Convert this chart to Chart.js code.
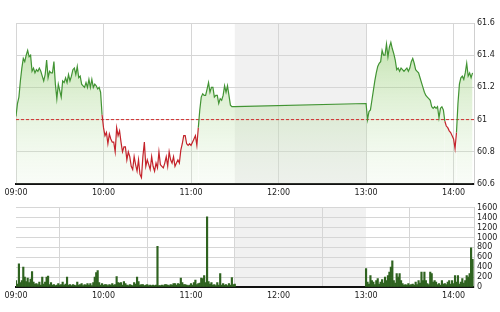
<!DOCTYPE html>
<html>
<head>
<meta charset="utf-8">
<script src="https://cdn.jsdelivr.net/npm/chart.js@4.4.1/dist/chart.umd.min.js"></script>
<style>
  html, body { margin:0; padding:0; background:#fff; }
  #wrap { position:relative; width:500px; height:312px; }
  #price { position:absolute; left:0; top:0; }
  #vol { position:absolute; left:0; top:200px; }
</style>
</head>
<body>
<div id="wrap">
  <canvas id="price" width="500" height="200"></canvas>
  <canvas id="vol" width="500" height="112"></canvas>
</div>
<script>
// time axis is minutes after 09:00
const timeLabels = ["09:00","10:00","11:00","12:00","13:00","14:00"];
const timeTicks = [0, 60, 120, 180, 240, 300];
const priceTicks = [60.6, 60.8, 61, 61.2, 61.4, 61.6];
const volumeTicks = [0, 200, 400, 600, 800, 1000, 1200, 1400, 1600];
const refPrice = 61;
const lunchStart = 150, lunchEnd = 240, sessionEnd = 314;
const morningStart = 0, afternoonStart = 240;

// one value per minute, 09:00 - 11:30
const morningPrice = [
  61.02,61.10,61.14,61.24,61.32,61.38,61.36,61.40,61.43,61.39,
  61.40,61.30,61.32,61.29,61.31,61.30,61.32,61.30,61.27,61.24,
  61.28,61.37,61.26,61.30,61.29,61.29,61.36,61.22,61.13,61.22,
  61.18,61.14,61.24,61.23,61.26,61.23,61.28,61.24,61.27,61.31,
  61.32,61.28,61.33,61.26,61.27,61.22,61.21,61.20,61.23,61.20,
  61.25,61.20,61.25,61.20,61.22,61.21,61.19,61.20,61.17,61.03,
  60.95,60.90,60.92,60.85,60.91,60.88,60.86,60.86,60.80,60.95,
  60.90,60.93,60.86,60.80,60.83,60.83,60.75,60.80,60.77,60.71,
  60.69,60.77,60.72,60.68,60.75,60.66,60.64,60.77,60.86,60.71,
  60.75,60.72,60.69,60.77,60.71,60.68,60.73,60.70,60.80,60.72,
  60.71,60.70,60.73,60.77,60.71,60.80,60.75,60.73,60.77,60.71,
  60.73,60.75,60.73,60.81,60.85,60.90,60.90,60.85,60.84,60.85,
  60.84,60.86,60.88,60.90,60.84,60.95,61.06,61.14,61.16,61.15,
  61.15,61.19,61.23,61.17,61.20,61.20,61.14,61.15,61.15,61.10,
  61.13,61.12,61.15,61.21,61.17,61.21,61.15,61.09,61.08,61.08,
  61.08
];
// one value per minute, 13:00 - 14:13
const afternoonPrice = [
  61.10,61.00,61.05,61.06,61.12,61.18,61.24,61.29,61.33,61.35,
  61.36,61.43,61.40,61.40,61.47,61.39,61.45,61.48,61.44,61.41,
  61.37,61.31,61.32,61.30,61.32,61.31,61.30,61.31,61.32,61.30,
  61.32,61.36,61.38,61.35,61.31,61.30,61.29,61.26,61.23,61.20,
  61.17,61.15,61.14,61.13,61.12,61.08,61.07,61.08,61.07,61.08,
  61.01,61.07,61.08,61.06,60.99,60.96,60.95,60.93,60.92,60.90,
  60.88,60.82,60.92,61.10,61.22,61.26,61.27,61.25,61.29,61.35,
  61.27,61.29,61.26,61.29
];
const morningVolume = [
  130,60,470,90,130,400,200,110,180,90,
  160,310,100,60,70,50,100,40,200,60,
  100,200,220,50,90,40,50,30,40,70,
  40,50,100,40,60,200,40,50,30,50,
  40,30,100,40,50,70,30,50,40,70,
  40,70,30,90,200,290,330,90,40,70,
  40,50,50,30,50,40,70,40,50,210,
  90,80,90,40,110,70,40,30,50,40,
  30,90,60,200,110,40,50,50,30,40,
  50,30,40,30,40,30,40,820,30,30,
  40,30,50,50,40,30,50,40,70,70,
  40,70,60,180,90,50,50,40,30,40,
  70,40,90,140,50,70,80,180,170,230,
  90,1420,110,60,90,40,50,30,90,40,
  270,40,70,40,50,30,70,40,190,50,
  60
];
const afternoonVolume = [
  370,100,60,230,130,100,50,130,170,60,
  100,150,80,200,130,230,300,400,530,130,
  80,270,200,270,130,70,40,50,40,70,
  40,50,60,40,100,50,130,80,300,130,
  300,130,70,50,300,270,100,130,100,50,
  70,40,130,60,70,50,100,130,60,130,
  70,230,100,230,60,100,170,80,130,230,
  200,270,790,560
];

const GREEN = "#429434", RED = "#c4232b", GRID = "#d6d6d6";
const FONT = { family: "DejaVu Sans", size: 8 };

function toPoints(start, values) {
  return values.map((v, i) => ({ x: start + i, y: v }));
}

const lunchShade = {
  id: "lunchShade",
  beforeDraw(chart) {
    const { ctx, chartArea: a, scales: { x } } = chart;
    const x0 = x.getPixelForValue(lunchStart), x1 = x.getPixelForValue(lunchEnd);
    ctx.save();
    ctx.fillStyle = "#f1f1f1";
    ctx.fillRect(x0, a.top, x1 - x0, a.bottom - a.top);
    ctx.restore();
  }
};

function timeAxis(height) {
  return {
    type: "linear", min: 0, max: sessionEnd, offset: false,
    afterBuildTicks: s => { s.ticks = timeTicks.map(v => ({ value: v })); },
    afterFit: s => { s.height = height; },
    grid: { color: GRID, drawTicks: false },
    border: { color: "#111", width: 2 },
    ticks: { font: FONT, color: "#222", padding: 4, maxRotation: 0, autoSkip: false,
      callback: v => timeLabels[timeTicks.indexOf(v)] }
  };
}

function valueAxis(min, max, list) {
  return {
    position: "right", min, max,
    afterBuildTicks: s => { s.ticks = list.map(v => ({ value: v })); },
    afterFit: s => { s.width = 26; },
    grid: { color: GRID, drawTicks: false },
    border: { color: "#cfcfcf" },
    ticks: { font: FONT, color: "#222", padding: 3, autoSkip: false,
      callback: v => String(Number(v.toFixed(1))) }
  };
}

const allPrice = toPoints(morningStart, morningPrice).concat(toPoints(afternoonStart, afternoonPrice));

new Chart(document.getElementById("price"), {
  type: "line",
  data: {
    datasets: [{
      data: allPrice,
      borderWidth: 1.2, borderColor: GREEN, pointRadius: 0, tension: 0,
      fill: "start",
      backgroundColor: c => {
        const a = c.chart.chartArea;
        if (!a) return "rgba(140,200,100,0.35)";
        const g = c.chart.ctx.createLinearGradient(0, a.top, 0, a.bottom);
        g.addColorStop(0, "rgba(135,198,95,0.58)");
        g.addColorStop(1, "rgba(215,238,205,0.15)");
        return g;
      },
      segment: {
        borderColor: s => (s.p0.parsed.y + s.p1.parsed.y) / 2 < refPrice ? RED : GREEN
      }
    }, {
      data: [{ x: 0, y: refPrice }, { x: sessionEnd, y: refPrice }],
      borderWidth: 1, borderColor: "#d42a2a", borderDash: [3, 2],
      pointRadius: 0, fill: false
    }]
  },
  options: {
    responsive: false, animation: false,
    layout: { padding: { left: 16, top: 23, right: 0, bottom: 0 } },
    plugins: { legend: { display: false }, tooltip: { enabled: false },
      filler: { drawTime: "beforeDatasetsDraw" } },
    scales: { x: timeAxis(16), y: valueAxis(60.6, 61.6, priceTicks) }
  },
  plugins: [lunchShade]
});

new Chart(document.getElementById("vol"), {
  type: "bar",
  data: {
    datasets: [{
      data: toPoints(morningStart, morningVolume).concat(toPoints(afternoonStart, afternoonVolume)),
      backgroundColor: "#2f6320", barThickness: 1.5, borderWidth: 0
    }]
  },
  options: {
    responsive: false, animation: false,
    layout: { padding: { left: 16, top: 7, right: 0, bottom: 0 } },
    plugins: { legend: { display: false }, tooltip: { enabled: false } },
    scales: {
      x: timeAxis(25),
      y: Object.assign(valueAxis(0, 1600, volumeTicks), {
        ticks: { font: FONT, color: "#222", padding: 3, autoSkip: false, callback: v => String(v) } })
    }
  },
  plugins: [lunchShade]
});
</script>
</body>
</html>
